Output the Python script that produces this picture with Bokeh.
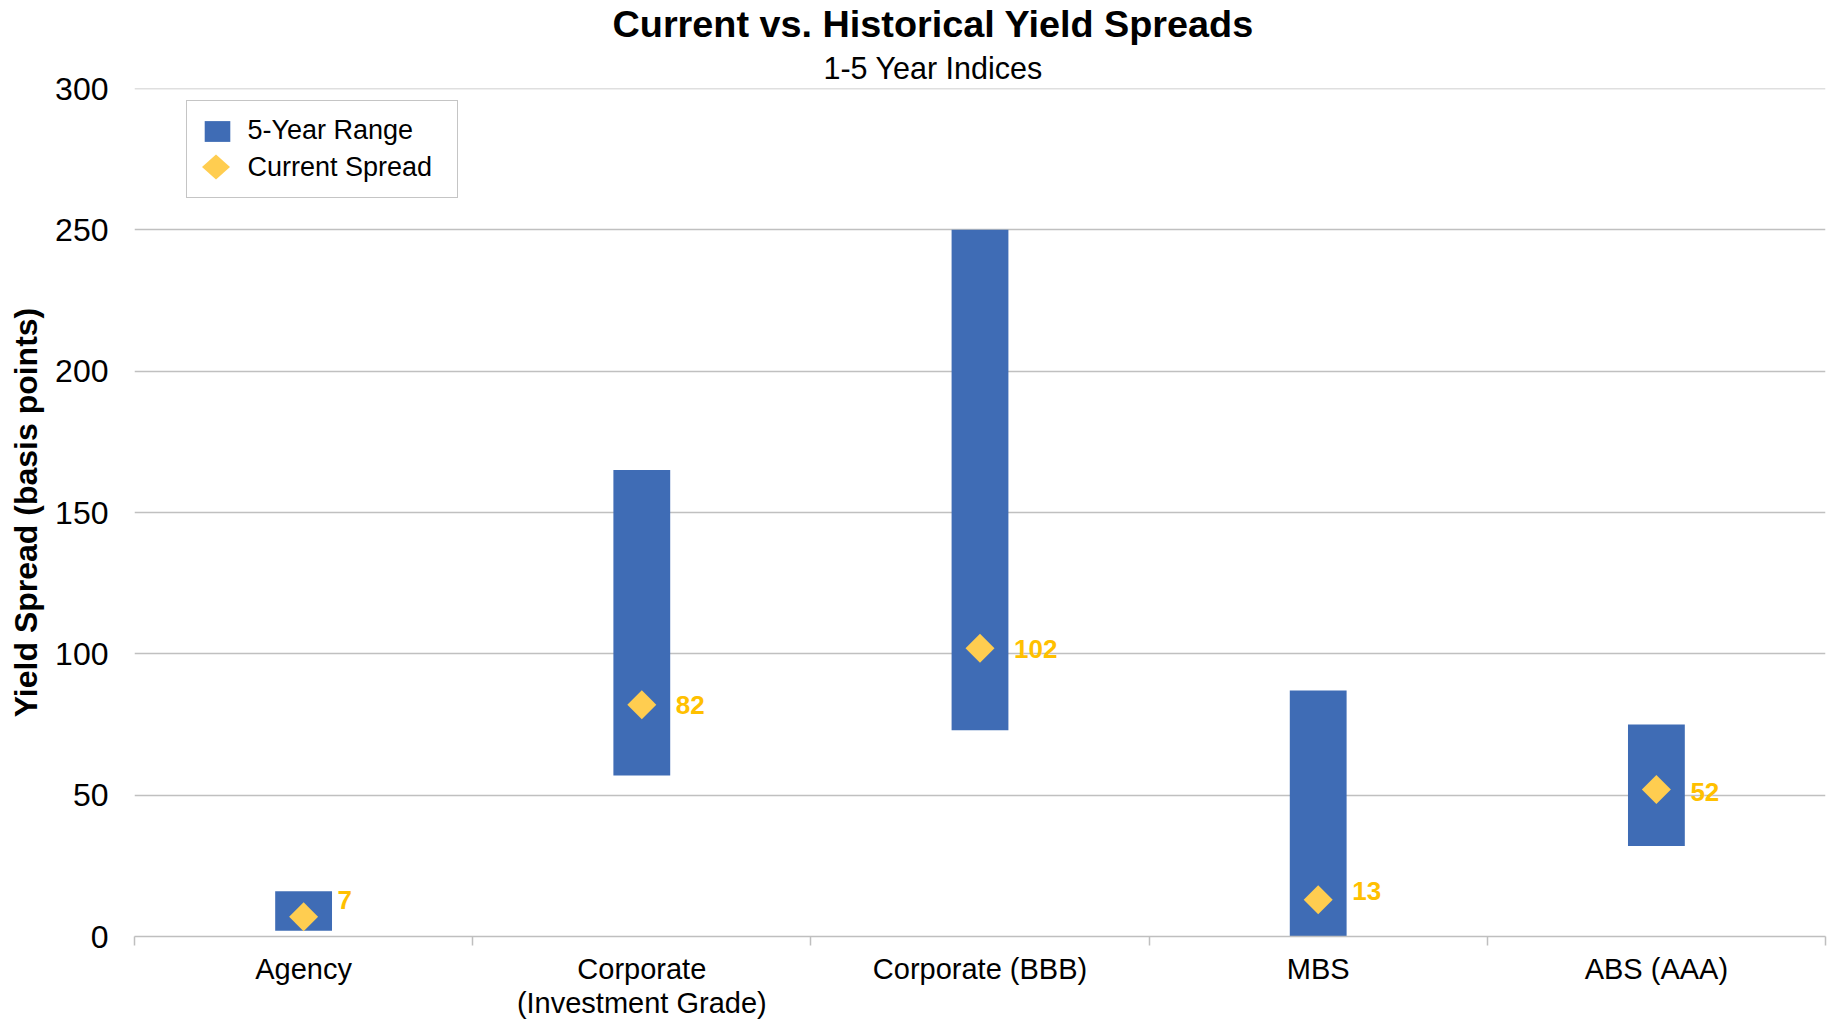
from math import pi
from bokeh.plotting import figure
from bokeh.models import (ColumnDataSource, Range1d, LinearAxis, FixedTicker, Title, Legend,
                          LegendItem, Span)
from bokeh.core.properties import value
from bokeh.embed import file_html
from bokeh.resources import INLINE

# ---- data ----
categories = ["Agency", "Corporate\n(Investment Grade)", "Corporate (BBB)", "MBS", "ABS (AAA)"]
range_low = [2, 57, 73, 0, 32]
range_high = [16, 165, 250, 87, 75]
current_spread = [7, 82, 102, 13, 52]
y_ticks = [0, 50, 100, 150, 200, 250, 300]

# ---- style ----
FONT = "Liberation Sans"
BAR_COLOR = "#3F6CB5"
DIAMOND_COLOR = "#FFCD50"
LABEL_COLOR = "#FFC000"
GRID_COLOR = "#C0C0C0"
AXIS_COLOR = "#BFBFBF"
label_dy = [-17, 0, 1, -9, 2]

W, H = 1833, 1023
BORDER_L, BORDER_R, BORDER_T, BORDER_B = 134, 8, 88, 87
FRAME_W = W - BORDER_L - BORDER_R
FRAME_H = H - BORDER_T - BORDER_B

n = len(categories)
centers = [i + 0.5 for i in range(n)]          # category slot centres
bounds = list(range(n + 1))                    # category slot boundaries

src = ColumnDataSource(dict(
    x=centers, low=range_low, high=range_high, cur=current_spread,
    lbl=[str(v) for v in current_spread], dy=label_dy,
))

x_range = Range1d(0, n)
y_range = Range1d(0, y_ticks[-1])
p = figure(x_range=x_range, y_range=y_range,
           width=W, height=H, output_backend="svg", toolbar_location=None,
           title=None, x_axis_location=None,
           min_border_left=BORDER_L, min_border_right=BORDER_R,
           min_border_top=BORDER_T, min_border_bottom=BORDER_B)
p.outline_line_color = None
p.background_fill_color = "white"
p.border_fill_color = "white"

# titles (subtitle first: nearest the frame)
p.add_layout(Title(text="1-5 Year Indices", align="left", offset=689, standoff=7,
                   text_font=FONT, text_font_size="30.5px", text_font_style="normal",
                   text_color="black"), "above")
p.add_layout(Title(text="Current vs. Historical Yield Spreads", align="left", offset=478, standoff=0.5,
                   text_font=FONT, text_font_size="37.8px", text_font_style="bold",
                   text_color="black"), "above")

# y axis
yax = p.yaxis[0]
yax.ticker = FixedTicker(ticks=y_ticks)
yax.axis_line_color = None
yax.major_tick_line_color = None
yax.minor_tick_line_color = None
yax.major_tick_out = 0
yax.major_tick_in = 0
yax.major_label_text_font = FONT
yax.major_label_text_font_size = "32px"
yax.major_label_text_color = "black"
yax.major_label_standoff = 26
yax.axis_label = "Yield Spread (basis points)"
yax.axis_label_text_font = FONT
yax.axis_label_text_font_size = "32px"
yax.axis_label_text_font_style = "bold"
yax.axis_label_text_color = "black"
yax.axis_label_standoff = 8

for g in p.ygrid:
    g.ticker = FixedTicker(ticks=y_ticks)
    g.grid_line_color = GRID_COLOR
    g.grid_line_width = 1.5
for g in p.xgrid:
    g.visible = False
# top gridline (grids skip the range ends)
p.add_layout(Span(location=y_ticks[-1], dimension="width", line_color=GRID_COLOR, line_width=1.5))

# x axis: labels at slot centres, tick marks at slot boundaries
xax = LinearAxis(ticker=FixedTicker(ticks=centers, minor_ticks=bounds),
                 major_label_overrides={c: lab for c, lab in zip(centers, categories)},
                 axis_line_color=AXIS_COLOR, axis_line_width=1.5,
                 major_tick_line_color=None, major_tick_out=0, major_tick_in=0,
                 minor_tick_line_color=AXIS_COLOR, minor_tick_line_width=1.5,
                 minor_tick_out=9, minor_tick_in=0,
                 major_label_text_font=FONT, major_label_text_font_size="29px",
                 major_label_text_color="black", major_label_text_line_height=1.08,
                 major_label_standoff=7)
p.add_layout(xax, "below")

# glyphs
bars = p.vbar(x="x", bottom="low", top="high", width=0.168, source=src,
              fill_color=BAR_COLOR, line_color=None)
dia = p.scatter(x="x", y="cur", marker="square", angle=pi / 4, size=20.5, source=src,
                fill_color=DIAMOND_COLOR, line_color=None)
p.text(x="x", y="cur", text="lbl", source=src, x_offset=34, y_offset="dy",
       text_align="left", text_baseline="middle", text_font=value(FONT),
       text_font_size="26px", text_font_style="bold", text_color=LABEL_COLOR)

# legend
LEG_X, LEG_Y = 51.5, 738          # legend bottom-left, screen px from frame bottom-left
LEG_PAD, LEG_GW, LEG_GH, LEG_SPACING = 14, 32, 26, 6
ROW2_CY = 31.5                    # centre of 2nd legend row above the legend bottom, px
key_src = ColumnDataSource(dict(x=[], y=[]))
key = p.scatter(x="x", y="y", source=key_src, marker="square", size=1,
                fill_alpha=0, line_alpha=0)
legend = Legend(items=[LegendItem(label="5-Year Range", renderers=[bars]),
                       LegendItem(label="Current Spread", renderers=[key])],
                location=(LEG_X, LEG_Y), orientation="vertical",
                border_line_color="#8C8C8C", border_line_width=1.25,
                background_fill_color="white", background_fill_alpha=0.0,
                label_text_font=FONT, label_text_font_size="27px", label_text_color="black",
                glyph_width=LEG_GW, glyph_height=LEG_GH, label_standoff=15,
                padding=LEG_PAD, spacing=LEG_SPACING,
                margin=0, label_width=195, label_height=26)
p.add_layout(legend)

# diamond key swatch inside the legend (2nd row), converted from frame pixels via the ranges
px_x = (x_range.end - x_range.start) / FRAME_W
px_y = (y_range.end - y_range.start) / FRAME_H
cx = x_range.start + (LEG_X + LEG_PAD + LEG_GW / 2) * px_x
cy = y_range.start + (LEG_Y + ROW2_CY) * px_y
hw, hh = 14 * px_x, 12.5 * px_y
p.patch(x=[cx - hw, cx, cx + hw, cx], y=[cy, cy + hh, cy, cy - hh],
        fill_color=DIAMOND_COLOR, fill_alpha=1.0, line_color=None, level="overlay")

open("out.html", "w").write(file_html(p, INLINE))
